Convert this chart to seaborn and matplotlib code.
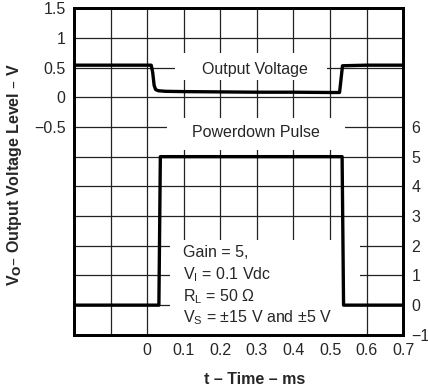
import numpy as np
import pandas as pd
import matplotlib
matplotlib.use("Agg")
import matplotlib.pyplot as plt
from matplotlib.patches import Rectangle
import seaborn as sns

# 数据
t_out = [-0.2, 0.011, 0.015, 0.019, 0.023, 0.030, 0.05, 0.1, 0.2, 0.3, 0.4, 0.5, 0.526, 0.530, 0.534, 0.6, 0.7]
v_out = [0.54, 0.54, 0.42, 0.20, 0.13, 0.11, 0.10, 0.095, 0.09, 0.085, 0.085, 0.08, 0.08, 0.30, 0.53, 0.54, 0.54]

t_pulse = [-0.2, 0.032, 0.036, 0.1, 0.3, 0.5, 0.533, 0.537, 0.6, 0.7]
v_pulse = [0.0, 0.0, 5.0, 5.0, 5.0, 5.0, 5.0, 0.0, 0.0, 0.0]

x_ticks = np.round(np.arange(-0.2, 0.71, 0.1), 1)
x_labels = ['', ''] + ['0', '0.1', '0.2', '0.3', '0.4', '0.5', '0.6', '0.7']
left_ticks = np.arange(-4, 1.51, 0.5)
left_labels = [''] * 7 + ['\u22120.5', '0', '0.5', '1', '1.5']
right_ticks = np.arange(-1, 10.1, 1)
right_labels = ['\u22121', '0', '1', '2', '3', '4', '5', '6', '', '', '', '']

sns.set_style("white")
plt.rcParams['font.family'] = ['Liberation Sans', 'DejaVu Sans']
fs = 11.5
plt.rcParams['font.size'] = fs

fig = plt.figure(figsize=(4.28, 3.88), dpi=100)
ax = fig.add_axes([0.173, 0.137, 0.769, 0.842])
ax2 = ax.twinx()

ax.set_xlim(-0.2, 0.7)
ax.set_ylim(-4, 1.5)
ax2.set_ylim(-1, 10)

ax.set_xticks(x_ticks)
ax.set_xticklabels(x_labels)
ax.set_yticks(left_ticks)
ax.set_yticklabels(left_labels)
ax2.set_yticks(right_ticks)
ax2.set_yticklabels(right_labels)

ax.grid(True, color='#222222', linewidth=0.9)
ax.set_axisbelow(True)
ax.tick_params(length=0, pad=6, labelsize=fs)
ax2.tick_params(length=0, pad=6, labelsize=fs)
for a in (ax, ax2):
    for s in a.spines.values():
        s.set_linewidth(2)
        s.set_color('black')

# 遮挡网格线的白色区域
for (x0, x1, y0, y1) in [(0.307, 0.769, 0.780, 0.862),
                         (0.283, 0.824, 0.566, 0.664),
                         (0.292, 0.869, 0.0, 0.291)]:
    ax.add_patch(Rectangle((x0, y0), x1 - x0, y1 - y0, transform=ax.transAxes,
                           facecolor='white', edgecolor='none', zorder=1.5))

sns.lineplot(x=t_out, y=v_out, ax=ax, color='black', linewidth=2.4,
             estimator=None, sort=False, zorder=5)
sns.lineplot(x=t_pulse, y=v_pulse, ax=ax2, color='black', linewidth=2.4,
             estimator=None, sort=False, zorder=5)

ax.text(0.550, 0.812, 'Output Voltage', transform=ax.transAxes,
        ha='center', va='center', fontsize=fs, zorder=6)
ax.text(0.553, 0.618, 'Powerdown Pulse', transform=ax.transAxes,
        ha='center', va='center', fontsize=fs, zorder=6)
gain_lines = ['Gain = 5,', 'V$_\\mathregular{I}$ = 0.1 Vdc',
              'R$_\\mathregular{L}$ = 50 \u03a9', 'V$_\\mathregular{S}$ = \u00b115 V and \u00b15 V']
gain_y = [0.251, 0.185, 0.117, 0.052]
for s, yy in zip(gain_lines, gain_y):
    ax.text(0.331, yy, s, transform=ax.transAxes, ha='left', va='center',
            fontsize=fs, zorder=6)

ax.set_xlabel('t \u2013 Time \u2013 ms', fontweight='bold', fontsize=fs, labelpad=8)
ax.xaxis.set_label_coords(0.55, -0.115)
ax.set_ylabel('V$_\\mathbf{O}$\u2013 Output Voltage Level \u2013 V', fontweight='bold',
              fontsize=fs, labelpad=6)
ax.yaxis.set_label_coords(-0.152, 0.49)
ax2.set_ylabel('')

fig.savefig('out.png', dpi=100)
